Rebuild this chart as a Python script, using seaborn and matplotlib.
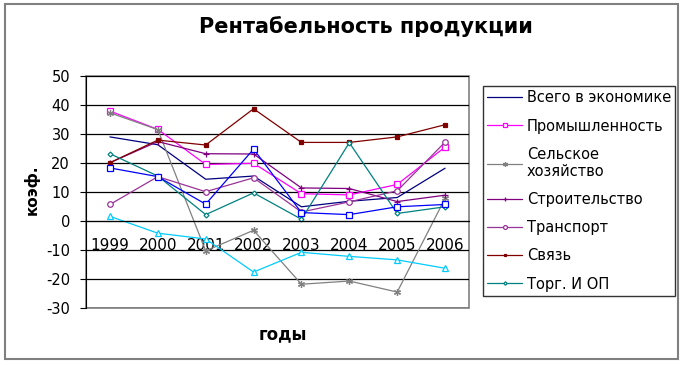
import numpy as np
import pandas as pd
import seaborn as sns
import matplotlib.pyplot as plt
from matplotlib.patches import Rectangle
from matplotlib.ticker import FixedLocator

sns.set_style("white")
plt.rcParams['font.family'] = ['DejaVu Sans']
plt.rcParams['axes.unicode_minus'] = False
plt.rcParams['text.color'] = 'black'
plt.rcParams['xtick.color'] = 'black'
plt.rcParams['ytick.color'] = 'black'

# data
years = ["1999", "2000", "2001", "2002", "2003", "2004", "2005", "2006"]
names = ["Всего в экономике", "Промышленность", "Сельское\nхозяйство", "Строительство",
         "Транспорт", "Связь", "Торг. И ОП", "Ряд 8", "Ряд 9"]
vsego = [29.0, 26.3, 14.4, 15.5, 4.9, 6.8, 8.1, 18.2]
prom = [37.9, 31.6, 19.5, 19.9, 9.4, 9.0, 12.6, 25.5]
selhoz = [37.3, 31.5, -10.3, -3.2, -21.8, -20.7, -24.5, 7.8]
stroit = [20.1, 27.4, 23.2, 23.1, 11.4, 11.2, 6.7, 8.9]
transp = [5.7, 15.3, 10.1, 14.9, 3.1, 6.6, 10.4, 27.2]
svyaz = [20.1, 27.9, 26.2, 38.7, 27.1, 27.1, 29.0, 33.2]
torg = [23.2, 15.5, 2.2, 9.7, 0.6, 27.0, 2.6, 4.9]
ryad8 = [18.3, 15.3, 5.8, 24.8, 2.9, 2.2, 4.9, 5.7]
ryad9 = [1.6, -4.2, -6.2, -17.6, -10.8, -12.2, -13.4, -16.3]
yticks = [-30, -20, -10, 0, 10, 20, 30, 40, 50]

series = [vsego, prom, selhoz, stroit, transp, svyaz, torg, ryad8, ryad9]
colors = ["#000080", "#FF00FF", "#808080", "#800080", "#993399", "#800000",
          "#008080", "#0000FF", "#00CCFF"]
markers = [None, "s", (6, 2, 0), "+", "o", "s", "D", "s", "^"]
msizes = [0, 4, 5, 5, 4, 2.5, 2.5, 4, 4]
hollow = [False, True, False, False, True, False, True, True, True]

fig = plt.figure(figsize=(6.85, 3.65), dpi=100)
ax = fig.add_axes([86 / 685, 1 - 308 / 365, 383 / 685, 232 / 365])

for i, vals in enumerate(series):
    df = pd.DataFrame({"год": years, "коэф": vals})
    kw = dict(color=colors[i], linewidth=0.9)
    if markers[i] is not None:
        kw.update(marker=markers[i], markersize=msizes[i],
                  markeredgecolor=colors[i], markeredgewidth=0.9,
                  markerfacecolor="white" if hollow[i] else colors[i])
    lbl = names[i] if i < 7 else "_nolegend_"
    sns.lineplot(data=df, x="год", y="коэф", ax=ax, label=lbl, sort=False, legend=False, **kw)

ax.set_xlim(-0.5, 7.5)
ax.set_ylim(-30, 50)
ax.set_yticks(yticks)
ax.yaxis.grid(True, color="black", linewidth=0.9)
ax.set_axisbelow(True)

ax.spines["bottom"].set_position(("data", 0))
ax.spines["top"].set_visible(False)
ax.spines["right"].set_visible(False)
ax.spines["left"].set_color("black")
ax.spines["bottom"].set_color("black")
ax.patch.set_edgecolor("#808080")
ax.patch.set_linewidth(1.2)

ax.tick_params(axis="x", which="major", length=0, pad=12, labelsize=11)
ax.xaxis.set_minor_locator(FixedLocator([0.5, 1.5, 2.5, 3.5, 4.5, 5.5, 6.5, 7.5]))
ax.tick_params(axis="x", which="minor", length=3, direction="out", color="black")
ax.tick_params(axis="y", length=4.5, direction="out", pad=7, labelsize=10.5, left=True, color="black")

ax.set_xlabel("")
ax.set_ylabel("")
fig.text(32 / 685, 1 - 190 / 365, "коэф.", rotation=90, ha="center", va="center",
         fontsize=11, fontweight="bold")
fig.text(283 / 685, 1 - 334 / 365, "годы", ha="center", va="center",
         fontsize=12, fontweight="bold")
fig.text(366 / 685, 1 - 27 / 365, "Рентабельность продукции", ha="center", va="center",
         fontsize=15, fontweight="bold")

handles, labels = ax.get_legend_handles_labels()
leg = fig.legend(handles, labels, loc="upper left", bbox_to_anchor=(483 / 685, 1 - 86 / 365),
                 frameon=True, fancybox=False, edgecolor="black", fontsize=10.5,
                 handlelength=2.4, handletextpad=0.3, labelspacing=0.9, borderpad=0.3,
                 markerscale=0.7, borderaxespad=0)
leg.get_frame().set_linewidth(1.0)

fig.patches.append(Rectangle((5 / 685, 6 / 365), 673 / 685, 355 / 365, transform=fig.transFigure,
                             fill=False, edgecolor="#808080", linewidth=1.5))

fig.savefig("out.png", dpi=100)
